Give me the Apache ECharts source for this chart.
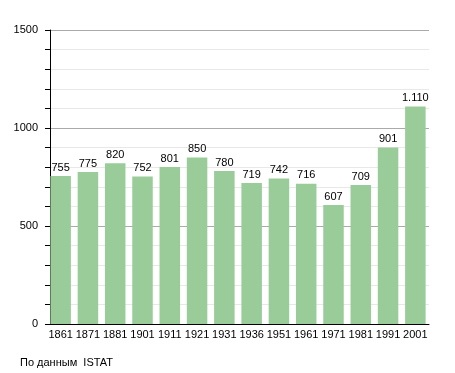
<!DOCTYPE html>
<html><head><meta charset="utf-8">
<script src="https://cdn.jsdelivr.net/npm/echarts@6/dist/echarts.min.js"></script>
<style>html,body{margin:0;padding:0;background:#fff}#c{width:455px;height:373px}</style>
</head><body><div id="c"></div>
<script>
var categories = ['1861','1871','1881','1901','1911','1921','1931','1936','1951','1961','1971','1981','1991','2001'];
var values = [755,775,820,752,801,850,780,719,742,716,607,709,901,1110];
var yTicks = [0,500,1000,1500];
var sourceText = 'По данным  ISTAT';

function fmt(v){ var s=String(v); return s.replace(/\B(?=(\d{3})+(?!\d))/g,'.'); }

var chart = echarts.init(document.getElementById('c'));
chart.setOption({
  animation:false,
  textStyle:{fontFamily:'Liberation Sans, Arial, sans-serif'},
  grid:{left:47,right:26,top:30,bottom:49,containLabel:false},
  graphic:[{type:'text',left:20,top:357,style:{text:sourceText,fill:'#000',font:'11px "Liberation Sans", Arial, sans-serif'}}],
  xAxis:{type:'category',data:categories,
    axisLine:{lineStyle:{color:'#000',width:1}},
    axisTick:{show:false},
    axisLabel:{color:'#000',fontSize:11,margin:5,interval:0}},
  yAxis:{type:'value',min:yTicks[0],max:yTicks[yTicks.length-1],interval:500,offset:-3,
    axisLine:{show:true,lineStyle:{color:'#000',width:1}},
    axisTick:{show:true,length:5,lineStyle:{color:'#000'}},
    minorTick:{show:true,splitNumber:5,length:5,lineStyle:{color:'#000'}},
    splitLine:{show:true,lineStyle:{color:'#aaaaaa'}},
    minorSplitLine:{show:true,lineStyle:{color:'#e8e8e8'}},
    axisLabel:{color:'#000',fontSize:11,margin:12,formatter:function(v){return String(v);}}},
  series:[{type:'bar',data:values,barWidth:20.5,
    itemStyle:{color:'#99cc99'},
    label:{show:true,position:'top',distance:3,color:'#000',fontSize:11,formatter:function(p){return fmt(p.value);}}}]
});
</script></body></html>
